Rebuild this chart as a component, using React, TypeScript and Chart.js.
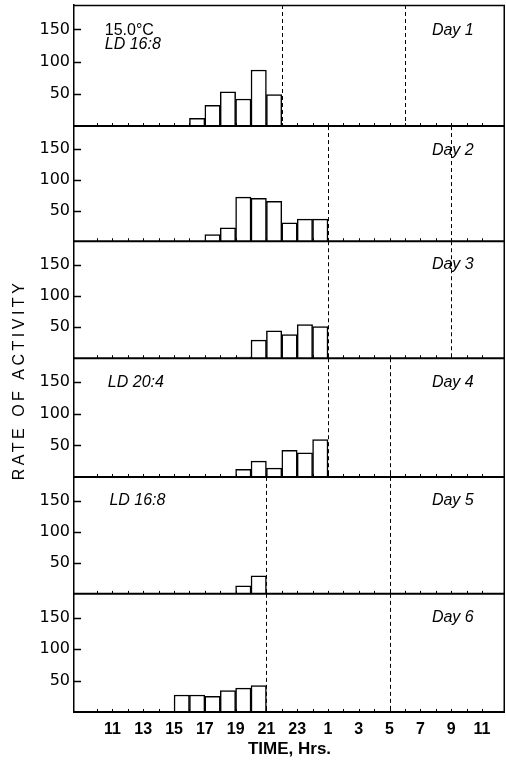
import React, { useEffect, useRef } from 'react';
import { Chart, registerables } from 'chart.js';

Chart.register(...registerables);

// ---- data ----
const HOUR_MIN = 9;
const HOUR_MAX = 36;
const Y_MAX = 188;

const dayNames = ['Day 1', 'Day 2', 'Day 3', 'Day 4', 'Day 5', 'Day 6'];

// first hour of each day's activity record, and hourly rates of activity
const dayStarts = [16, 17, 19, 19, 18, 15];
const day1Values = [12, 32, 53, 42, 87, 49];
const day2Values = [11, 22, 72, 70, 65, 30, 36, 36];
const day3Values = [2, 29, 44, 38, 54, 51];
const day4Values = [12, 25, 14, 42, 38, 59];
const day5Values = [1, 13, 29];
const day6Values = [27, 27, 25, 34, 38, 42];
const dayValues = [day1Values, day2Values, day3Values, day4Values, day5Values, day6Values];

// lights off / lights on (hours, continuing past 24)
const lightsOff = [22, 25, 25, 25, 21, 21];
const lightsOn = [30, 33, 33, 29, 29, 29];

const yTickValues = [50, 100, 150];
const xTickHours = [11, 13, 15, 17, 19, 21, 23, 25, 27, 29, 31, 33, 35];
const xTickLabels = ['11', '13', '15', '17', '19', '21', '23', '1', '3', '5', '7', '9', '11'];

// panel notes
const noteDays = [0, 0, 3, 4];
const noteHours = [10.5, 10.5, 10.7, 10.8];
const noteValues = [149, 126, 150, 150];
const noteTexts = ['15.0°C', 'LD 16:8', 'LD 20:4', 'LD 16:8'];
const noteItalic = [false, true, true, true];
const noteSizes = [16, 16, 16, 16];
const dayLabelHour = 31.75;
const dayLabelValues = [149, 148, 150, 150, 150, 150];

// relative panel heights (layout)
const panelWeights = [1.035, 0.985, 1, 1.015, 1, 1.01];

const FONT = '"Liberation Sans", Arial, sans-serif';
const TICK_FONT = '"DejaVu Sans", sans-serif';

const panelPlugin = {
  id: 'panels',
  beforeDatasetsDraw(chart: any) {
    const ctx = chart.ctx;
    const xs = chart.scales.x;
    ctx.save();
    ctx.strokeStyle = '#000';
    ctx.lineWidth = 1;
    ctx.setLineDash([4, 3]);
    dayNames.forEach((_, i) => {
      const ys = chart.scales['y' + (i + 1)];
      [lightsOff[i], lightsOn[i]].forEach((h) => {
        const px = Math.round(xs.getPixelForValue(h)) + 0.5;
        ctx.beginPath();
        ctx.moveTo(px, ys.top);
        ctx.lineTo(px, ys.bottom);
        ctx.stroke();
      });
    });
    ctx.restore();
  },
  afterDatasetsDraw(chart: any) {
    const ctx = chart.ctx;
    const xs = chart.scales.x;
    const area = chart.chartArea;
    ctx.save();
    ctx.strokeStyle = '#000';
    ctx.setLineDash([]);
    ctx.lineWidth = 1.5;
    ctx.beginPath();
    ctx.moveTo(area.left, area.top + 0.5);
    ctx.lineTo(area.right, area.top + 0.5);
    ctx.moveTo(area.right - 0.75, area.top);
    ctx.lineTo(area.right - 0.75, area.bottom);
    ctx.stroke();
    dayNames.forEach((name, i) => {
      const ys = chart.scales['y' + (i + 1)];
      const base = ys.getPixelForValue(0);
      ctx.lineWidth = 2;
      ctx.beginPath();
      ctx.moveTo(area.left, base);
      ctx.lineTo(area.right, base);
      ctx.stroke();
      // inward y ticks
      ctx.lineWidth = 1.5;
      yTickValues.forEach((v) => {
        const py = Math.round(ys.getPixelForValue(v)) + 0.5;
        ctx.beginPath();
        ctx.moveTo(area.left, py);
        ctx.lineTo(area.left + 7, py);
        ctx.stroke();
      });
      // hourly ticks along baseline
      ctx.lineWidth = 1;
      for (let h = HOUR_MIN + 1; h < HOUR_MAX; h++) {
        const px = Math.round(xs.getPixelForValue(h)) + 0.5;
        ctx.beginPath();
        ctx.moveTo(px, base);
        ctx.lineTo(px, base - 3);
        ctx.stroke();
      }
      ctx.fillStyle = '#000';
      ctx.font = 'italic 16px ' + FONT;
      ctx.textAlign = 'left';
      ctx.textBaseline = 'middle';
      ctx.fillText(name, xs.getPixelForValue(dayLabelHour), ys.getPixelForValue(dayLabelValues[i]));
    });
    noteTexts.forEach((t, k) => {
      const ys = chart.scales['y' + (noteDays[k] + 1)];
      ctx.font = (noteItalic[k] ? 'italic ' : '') + noteSizes[k] + 'px ' + FONT;
      ctx.textAlign = 'left';
      ctx.textBaseline = 'middle';
      ctx.fillText(t, xs.getPixelForValue(noteHours[k]), ys.getPixelForValue(noteValues[k]));
    });
    ctx.restore();
  },
  afterDraw(chart: any) {
    const ctx = chart.ctx;
    ctx.save();
    ctx.translate(20, 380);
    ctx.rotate(-Math.PI / 2);
    ctx.font = '16px ' + FONT;
    (ctx as any).letterSpacing = '3.5px';
    ctx.fillStyle = '#000';
    ctx.textAlign = 'center';
    ctx.textBaseline = 'middle';
    ctx.fillText('RATE OF ACTIVITY', 0, 0);
    ctx.restore();
  },
};

export default function App() {
  const ref = useRef<HTMLCanvasElement>(null);

  useEffect(() => {
    document.body.style.margin = '0';
    const canvas = ref.current;
    if (!canvas) return;

    const datasets = dayValues.map((vals, i) => ({
      label: dayNames[i],
      data: vals.map((v, j) => ({ x: dayStarts[i] + j + 0.5, y: v })),
      yAxisID: 'y' + (i + 1),
      backgroundColor: '#ffffff',
      borderColor: '#000000',
      borderWidth: 1.5,
      barPercentage: 1,
      categoryPercentage: 1,
      grouped: false,
    }));

    const yScale = (i: number) => ({
      type: 'linear',
      position: 'left',
      stack: 'days',
      stackWeight: panelWeights[i],
      min: 0,
      max: Y_MAX,
      afterBuildTicks: (scale: any) => {
        scale.ticks = yTickValues.map((v) => ({ value: v }));
      },
      afterFit: (scale: any) => {
        scale.width = 74;
        scale.paddingTop = 0;
        scale.paddingBottom = 0;
      },
      ticks: {
        stepSize: 50,
        color: '#000',
        padding: 4,
        font: { family: TICK_FONT, size: 16 },
      },
      grid: { display: false, drawTicks: false, drawOnChartArea: false },
      border: { display: true, color: '#000', width: 1.5 },
    });

    const scales: any = {
      x: {
        type: 'linear',
        min: HOUR_MIN,
        max: HOUR_MAX,
        afterFit: (scale: any) => {
          scale.height = 49;
        },
        ticks: {
          stepSize: 1,
          autoSkip: false,
          maxRotation: 0,
          color: '#000',
          padding: 8,
          font: { family: FONT, size: 16, weight: 'bold' },
          callback: (v: number) => {
            const idx = xTickHours.indexOf(v);
            return idx >= 0 ? xTickLabels[idx] : '';
          },
        },
        grid: { display: true, drawOnChartArea: false, drawTicks: false },
        border: { display: false },
        title: {
          display: true,
          text: 'TIME, Hrs.',
          color: '#000',
          font: { family: FONT, size: 17, weight: 'bold' },
          padding: { top: 0, bottom: 1 },
        },
      },
    };
    for (let i = 6; i >= 1; i--) scales['y' + i] = yScale(i - 1);

    const chart = new Chart(canvas, {
      type: 'bar',
      data: { datasets } as any,
      options: {
        responsive: false,
        maintainAspectRatio: false,
        animation: false,
        devicePixelRatio: 1,
        layout: { padding: { left: 0, right: 1, top: 5, bottom: 0 } },
        plugins: { legend: { display: false }, tooltip: { enabled: false } },
        scales,
      } as any,
      plugins: [panelPlugin],
    });
    return () => chart.destroy();
  }, []);

  return (
    <div style={{ width: 506, height: 761, background: '#fff' }}>
      <canvas ref={ref} width={506} height={761} style={{ display: 'block' }} />
    </div>
  );
}
